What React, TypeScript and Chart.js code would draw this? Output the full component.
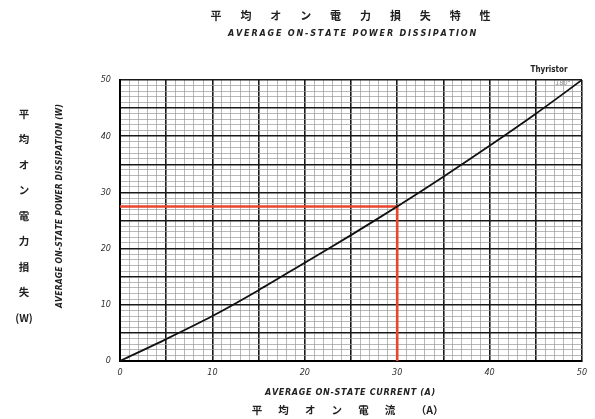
import React, { useEffect, useRef } from "react";
import { Chart, registerables } from "chart.js";

Chart.register(...registerables);

const currents = [0, 5, 10, 15, 20, 25, 30, 35, 40, 45, 50];
const powers = [0, 3.9, 8.0, 12.6, 17.5, 22.4, 27.5, 32.8, 38.3, 44.0, 50.0];
const markerCurrent = 30;
const markerPower = 27.5;
const xTickLabels = ["0", "10", "20", "30", "40", "50"];
const yTickLabels = ["0", "10", "20", "30", "40", "50"];

const titleJa = "平 均 オ ン 電 力 損 失 特 性";
const titleEn = "AVERAGE ON-STATE POWER DISSIPATION";
const yTitleJa = ["平", "均", "オ", "ン", "電", "力", "損", "失", "(W)"];
const yTitleEn = "AVERAGE ON-STATE POWER DISSIPATION (W)";
const xTitleEn = "AVERAGE ON-STATE CURRENT (A)";
const xTitleJa = "平 均 オ ン 電 流 （A）";
const deviceLabel = "Thyristor";
const deviceSub = "180°";

const NARROW = "'Liberation Sans Narrow', 'DejaVu Sans Condensed', sans-serif";
const JP = "'Noto Sans CJK JP', sans-serif";

const textPlugin = {
  id: "texts",
  afterDraw(chart: any) {
    const ctx = chart.ctx;
    ctx.save();
    ctx.fillStyle = "#222";
    ctx.textAlign = "center";
    ctx.textBaseline = "middle";
    // top titles
    ctx.font = `bold 11px ${JP}`;
    const chars = titleJa.split(" ");
    chars.forEach((c: string, i: number) => {
      ctx.fillText(c, 216 + i * 29.9, 16);
    });
    ctx.font = `italic bold 9px ${NARROW}`;
    drawSpaced(ctx, titleEn, 350, 34, 244);
    // left titles
    ctx.font = `bold 10.5px ${JP}`;
    yTitleJa.forEach((c: string, i: number) => {
      ctx.fillText(c, 24, 114 + i * 25.5);
    });
    ctx.save();
    ctx.translate(60, 208);
    ctx.rotate(-Math.PI / 2);
    ctx.font = `italic bold 8.5px ${NARROW}`;
    drawSpaced(ctx, yTitleEn, 0, 0, 200);
    ctx.restore();
    // bottom titles
    ctx.font = `italic bold 9px ${NARROW}`;
    drawSpaced(ctx, xTitleEn, 349, 393, 168);
    ctx.font = `bold 10.5px ${JP}`;
    const bchars = xTitleJa.split(" ");
    bchars.forEach((c: string, i: number) => {
      ctx.fillText(c, 257 + i * 26.6 + (i === 6 ? 13 : 0), 410);
    });
    // device label
    ctx.font = `bold 8px ${NARROW}`;
    ctx.fillText(deviceLabel, 549, 70);
    ctx.fillStyle = "#888";
    ctx.font = `italic 7px ${NARROW}`;
    ctx.fillText(deviceSub, 563, 83);
    ctx.restore();
  },
};

function drawSpaced(ctx: any, text: string, cx: number, cy: number, width: number) {
  const natural = ctx.measureText(text).width;
  const n = text.length;
  const extra = n > 1 ? (width - natural) / (n - 1) : 0;
  let x = cx - width / 2;
  const prevAlign = ctx.textAlign;
  ctx.textAlign = "left";
  for (const ch of text) {
    ctx.fillText(ch, x, cy);
    x += ctx.measureText(ch).width + extra;
  }
  ctx.textAlign = prevAlign;
}

function gridColor(c: any) {
  const v = c.tick ? c.tick.value : 0;
  return Math.round(v) % 5 === 0 ? "#1a1a1a" : "#9a9a9a";
}
function gridWidth(c: any) {
  const v = c.tick ? c.tick.value : 0;
  return Math.round(v) % 5 === 0 ? 1.6 : 0.7;
}

export default function App() {
  const ref = useRef<HTMLCanvasElement>(null);
  useEffect(() => {
    if (!ref.current) return;
    const chart = new Chart(ref.current, {
      type: "line",
      data: {
        datasets: [
          {
            data: currents.map((x, i) => ({ x, y: powers[i] })),
            borderColor: "#111",
            borderWidth: 1.8,
            pointRadius: 0,
            tension: 0.3,
          },
          {
            data: [
              { x: 0, y: markerPower },
              { x: markerCurrent, y: markerPower },
              { x: markerCurrent, y: 0 },
            ],
            borderColor: "#e8462c",
            borderWidth: 2.6,
            pointRadius: 0,
            tension: 0,
          },
        ],
      },
      options: {
        animation: false,
        responsive: false,
        maintainAspectRatio: false,
        layout: { padding: { left: 0, right: 13, top: 80, bottom: 0 } },
        plugins: { legend: { display: false }, tooltip: { enabled: false } },
        scales: {
          x: {
            type: "linear",
            min: 0,
            max: 50,
            afterFit(s: any) {
              s.height = 58;
            },
            border: { color: "#000", width: 2 },
            grid: { color: gridColor, lineWidth: gridWidth, drawTicks: false },
            ticks: {
              stepSize: 1,
              autoSkip: false,
              maxRotation: 0,
              padding: 6,
              color: "#333",
              font: { family: NARROW, size: 9, style: "italic" },
              callback: (v: any) => (Number(v) % 10 === 0 ? xTickLabels[Number(v) / 10] : ""),
            },
          },
          y: {
            type: "linear",
            min: 0,
            max: 50,
            afterFit(s: any) {
              s.width = 120;
            },
            border: { color: "#000", width: 2 },
            grid: { color: gridColor, lineWidth: gridWidth, drawTicks: false },
            ticks: {
              stepSize: 1,
              autoSkip: false,
              padding: 9,
              color: "#333",
              font: { family: NARROW, size: 9, style: "italic" },
              callback: (v: any) => (Number(v) % 10 === 0 ? yTickLabels[Number(v) / 10] : ""),
            },
          },
        },
      },
      plugins: [textPlugin],
    } as any);
    return () => chart.destroy();
  }, []);
  return (
    <div style={{ position: "fixed", left: 0, top: 0, width: 595, height: 419, background: "#fff" }}>
      <canvas ref={ref} width={595} height={419} style={{ width: 595, height: 419, display: "block" }} />
    </div>
  );
}
